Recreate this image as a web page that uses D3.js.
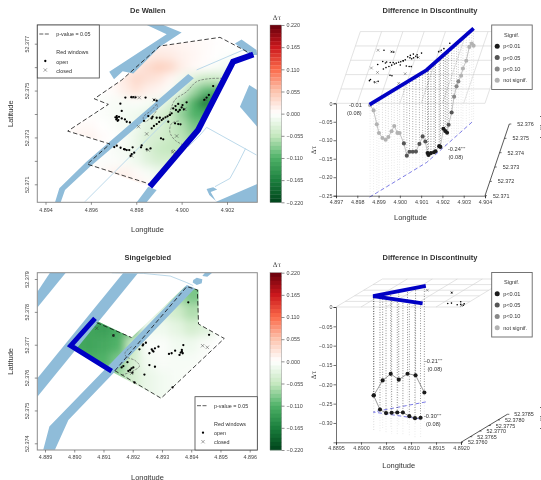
<!DOCTYPE html>
<html>
<head>
<meta charset="utf-8">
<script src="https://cdn.jsdelivr.net/npm/d3@7"></script>
<style>
  html, body { margin: 0; padding: 0; background: #fff; overflow: hidden; }
  svg { display: block; filter: blur(0.35px); }
  text { font-family: "Liberation Sans", Arial, sans-serif; fill: #333; }
  .tick text { font-size: 5.4px; fill: #444; }
  .tick line, .domain { stroke: #444; stroke-width: 0.6; }
</style>
</head>
<body>
<script>
const width = 541, height = 480;

const colorStops = [-0.22, -0.165, -0.11, -0.055, 0, 0.055, 0.11, 0.165, 0.22];
const colorValues = ["#00441b", "#1b7f3d", "#4fb268", "#c5e8bf", "#ffffff", "#fcc3ad", "#fb6a4a", "#cb181d", "#67000d"];
const colorbarTicks = [0.22, 0.165, 0.11, 0.055, 0, -0.055, -0.11, -0.165, -0.22];
const signifLabels = ["p<0.01", "p<0.05", "p<0.10", "not signif."];
const signifColors = ["#1a1a1a", "#555555", "#888888", "#b2b2b2"];

// De Wallen map
const wallenPolygon = [[4.89498,52.37327],[4.89677,52.37441],[4.89615,52.37465],[4.89736,52.37545],[4.89904,52.3769],[4.90169,52.37727],[4.90316,52.37652],[4.90227,52.37623],[4.90073,52.37332],[4.8986,52.3709],[4.89584,52.37186],[4.89684,52.37272]];
const wallenBoundary = [
  [[4.90316,52.37652],[4.90169,52.37727],[4.89904,52.3769],[4.89736,52.37545],[4.89615,52.37465],[4.89677,52.37441],[4.89498,52.37327],[4.89684,52.37272],[4.89584,52.37186],[4.8986,52.37101]]
];
const wallenContours = [
  [[4.89948,52.37403],[4.8997,52.3746],[4.90022,52.37495],[4.90066,52.37538],[4.90125,52.37551],[4.90183,52.37552]],
  [[4.90007,52.37268],[4.8997,52.37289],[4.89948,52.37324],[4.89956,52.3736],[4.89992,52.37371]],
  [[4.8989,52.37443],[4.89868,52.37417],[4.89831,52.37386],[4.89838,52.37367],[4.89868,52.37388],[4.89893,52.37424],[4.8989,52.37443]],
  [[4.89956,52.37239],[4.89963,52.37249],[4.89973,52.37239],[4.89963,52.37229],[4.89956,52.37239]]
];
const wallenCanals = [
  [[4.89442,52.37023],[4.89461,52.37083],[4.89578,52.37194],[4.90029,52.37571],[4.90054,52.37553],[4.89596,52.37175],[4.89486,52.37076],[4.89467,52.37023]],
  [[4.89681,52.3758],[4.89934,52.3774],[4.89846,52.3778],[4.89919,52.3778],[4.9,52.37748],[4.89904,52.37687],[4.89787,52.37573],[4.8974,52.37582],[4.89702,52.37548]],
  [[4.90235,52.37701],[4.90264,52.37718],[4.9033,52.37673],[4.90333,52.37652],[4.90301,52.37652]],
  [[4.90298,52.37524],[4.90333,52.37502],[4.90333,52.37346],[4.90257,52.37431]],
  [[4.89802,52.37023],[4.89853,52.3709],[4.8989,52.37076],[4.89846,52.37023]],
  [[4.90147,52.37023],[4.90333,52.37101],[4.90333,52.37023]],
  [[4.9011,52.3708],[4.90139,52.37087],[4.90157,52.37078],[4.90128,52.37067],[4.90151,52.37029],[4.90122,52.37054]]
];
const wallenStreets = [
  [[4.89574,52.37026],[4.89904,52.37346],[4.89941,52.37381]],
  [[4.90066,52.37588],[4.90271,52.37673],[4.90308,52.37662]],
  [[4.90029,52.3726],[4.90081,52.3731],[4.9011,52.37343],[4.9033,52.37225]],
  [[4.90282,52.37253],[4.90249,52.37189],[4.90213,52.37125],[4.90147,52.3709]]
];
const wallenLine = [[4.90316,52.37654],[4.90227,52.37623],[4.90073,52.37332],[4.8986,52.3709]];
const wallenOpen = [[4.89752,52.3747],[4.89778,52.37472],[4.89787,52.37472],[4.89797,52.37471],[4.89841,52.3747],[4.89879,52.3746],[4.8989,52.37457],[4.8973,52.37444],[4.89736,52.37413],[4.89708,52.37386],[4.89712,52.37377],[4.89715,52.37383],[4.89718,52.37371],[4.89724,52.37388],[4.89714,52.37391],[4.89721,52.37374],[4.89736,52.37381],[4.8975,52.37377],[4.89758,52.37367],[4.89772,52.37364],[4.89703,52.37259],[4.89714,52.37265],[4.89731,52.37256],[4.89746,52.3725],[4.89758,52.37246],[4.89769,52.37246],[4.8975,52.37249],[4.89784,52.37258],[4.89791,52.37235],[4.8978,52.37229],[4.89775,52.37221],[4.89824,52.37266],[4.89821,52.37258],[4.89846,52.37249],[4.89863,52.37253],[4.89909,52.37296],[4.89919,52.37292],[4.89868,52.37339],[4.89878,52.37349],[4.8989,52.37357],[4.89901,52.37366],[4.89912,52.37374],[4.89919,52.3738],[4.89929,52.37386],[4.89938,52.3739],[4.89948,52.37396],[4.89941,52.37367],[4.89904,52.37384],[4.8989,52.37384],[4.89872,52.37388],[4.89853,52.37391],[4.89868,52.37381],[4.89834,52.37371],[4.89963,52.37424],[4.89973,52.37434],[4.89985,52.37443],[4.9,52.37428],[4.9001,52.3742],[4.89985,52.3741],[4.89975,52.37417],[4.89992,52.37417],[4.90004,52.37438],[4.90022,52.3745],[4.89956,52.37403],[4.89948,52.37396],[4.89971,52.3736],[4.89985,52.37357],[4.89995,52.37356],[4.901,52.3746],[4.9011,52.3747],[4.9012,52.37481],[4.90139,52.37519]];
const wallenClosed = [[4.89813,52.3747],[4.89787,52.37471],[4.89879,52.3746],[4.8981,52.37346],[4.89846,52.37315],[4.89978,52.37306],[4.89963,52.37239],[4.8978,52.37221],[4.89853,52.37246],[4.90014,52.3742],[4.90106,52.37462]];
const wallenHeatLons = [4.895,4.8955,4.896,4.8965,4.897,4.8975,4.898,4.8985,4.899,4.8995,4.9,4.9005,4.901,4.9015,4.902,4.9025,4.903,4.9035];
const wallenHeatLats = [52.3775,52.377,52.3765,52.376,52.3755,52.375,52.3745,52.374,52.3735,52.373,52.3725,52.372,52.3715,52.371];
const wallenHeat = [
  [0,0,0,0,0,0,0,0,.004,.004,.004,.004,.002,.001,0,0,0,0],
  [0,0,0,0,0,0,.004,.008,.01,.01,.008,.006,.004,.002,0,0,0,0],
  [0,0,0,0,0,.004,.01,.016,.02,.018,.012,.008,.004,.001,-.003,-.003,0,0],
  [0,0,0,0,.004,.01,.02,.032,.042,.036,.016,.006,.002,-.006,-.012,-.012,0,0],
  [0,0,0,0,.008,.02,.035,.028,.022,.008,-.01,-.03,-.05,-.05,-.04,-.03,0,0],
  [0,0,0,0,.005,.016,.026,.014,.008,-.005,-.03,-.07,-.1,-.11,-.1,-.08,0,0],
  [0,0,-.004,-.004,-.007,-.007,-.004,-.008,-.015,-.035,-.07,-.11,-.17,-.14,-.12,-.1,0,0],
  [0,0,0,-.004,-.007,-.01,-.015,-.02,-.035,-.05,-.08,-.11,-.115,-.11,-.1,0,0,0],
  [0,.005,.005,0,-.004,-.01,-.015,-.03,-.035,-.05,-.065,-.09,-.095,-.09,0,0,0,0],
  [.006,.01,.01,.004,0,-.007,-.02,-.035,-.04,-.05,-.06,-.075,-.08,-.08,0,0,0,0],
  [0,0,0,0,-.007,-.01,-.02,-.035,-.05,-.055,-.055,-.06,-.06,0,0,0,0,0],
  [0,0,-.004,-.004,-.004,-.007,-.015,-.03,-.04,-.04,-.04,-.045,0,0,0,0,0,0],
  [0,0,0,.005,.01,.012,.005,-.007,-.015,-.02,-.02,0,0,0,0,0,0,0],
  [0,0,0,.005,.01,.014,.012,.005,-.004,-.008,-.008,0,0,0,0,0,0,0]
];

// Singelgebied map
const singelPolygon = [[4.89003,52.37696],[4.89071,52.37775],[4.89196,52.37722],[4.89379,52.37877],[4.89425,52.37867],[4.89425,52.37763],[4.89513,52.37719],[4.89297,52.37537],[4.89122,52.37621]];
const singelBoundary = [
  [[4.89077,52.37767],[4.89196,52.37722]],
  [[4.89139,52.37621],[4.89385,52.37877],[4.89421,52.37867],[4.89425,52.37763],[4.89513,52.37719],[4.89297,52.37537],[4.89139,52.37621]]
];
const singelContours = [
  [[4.89196,52.37694],[4.89174,52.37676],[4.89177,52.37664],[4.89208,52.37652],[4.89223,52.37635],[4.89196,52.37618],[4.89162,52.37608]]
];
const singelCanals = [
  [[4.88874,52.37861],[4.88917,52.37919],[4.88971,52.37919],[4.88874,52.37813]],
  [[4.88874,52.37598],[4.89168,52.37919],[4.89219,52.37919],[4.88874,52.37542]],
  [[4.88894,52.3738],[4.88915,52.37451],[4.89385,52.37882],[4.89413,52.37872],[4.8898,52.37471],[4.88934,52.3738]],
  [[4.89407,52.37897],[4.89419,52.37904],[4.89438,52.37899],[4.89436,52.37887],[4.89419,52.37882],[4.89405,52.37889]],
  [[4.89438,52.37909],[4.89447,52.37919],[4.89472,52.37919],[4.89455,52.37907]]
];
const singelStreets = [
  [[4.89128,52.37919],[4.89236,52.37917],[4.89328,52.37909],[4.89385,52.37889],[4.89407,52.3788]]
];
const singelLine = [[4.89071,52.3778],[4.88988,52.37697],[4.89128,52.3762]];
const singelOpen = [[4.8939,52.37829],[4.89461,52.3773],[4.89134,52.37728],[4.89223,52.37686],[4.89236,52.37701],[4.89245,52.37706],[4.89234,52.37698],[4.89257,52.37674],[4.89265,52.37686],[4.89271,52.37679],[4.89276,52.37689],[4.89288,52.37694],[4.89268,52.37682],[4.89324,52.37672],[4.89333,52.37674],[4.89345,52.37682],[4.89373,52.37699],[4.89368,52.37684],[4.89364,52.37676],[4.8936,52.37669],[4.89371,52.37674],[4.89368,52.37679],[4.89257,52.37638],[4.89276,52.37633],[4.8924,52.37609],[4.89206,52.37585],[4.89336,52.3757],[4.89168,52.37635],[4.89182,52.37647],[4.89162,52.37631],[4.89196,52.37628],[4.89191,52.37623],[4.89202,52.37631],[4.89185,52.3762],[4.89199,52.37615]];
const singelClosed = [[4.89077,52.3775],[4.89134,52.37728],[4.89196,52.37613],[4.89439,52.37697],[4.89455,52.37692]];
const singelHeatLons = [4.8895,4.89,4.8905,4.891,4.8915,4.892,4.8925,4.893,4.8935,4.894,4.8945,4.895,4.8955];
const singelHeatLats = [52.379,52.3785,52.378,52.3775,52.377,52.3765,52.376,52.3755,52.375];
const singelHeat = [
  [0,0,0,0,0,0,0,0,-.07,-.09,-.09,0,0],
  [0,0,0,0,0,0,0,-.04,-.07,-.09,-.09,0,0],
  [-.1,-.1,-.11,-.115,-.11,-.09,-.03,-.03,-.045,-.065,-.06,0,0],
  [-.1,-.11,-.125,-.13,-.115,-.1,-.015,-.015,-.025,-.04,-.03,-.005,-.005],
  [-.11,-.12,-.125,-.12,-.11,-.05,-.005,-.005,-.012,-.015,-.006,0,0],
  [-.11,-.11,-.115,-.11,-.09,-.04,-.012,-.006,-.008,-.008,-.004,0,0],
  [0,0,-.11,-.09,-.07,-.04,-.02,-.012,-.008,-.005,0,0,0],
  [0,0,0,0,-.04,-.03,-.02,-.012,-.008,-.004,0,0,0],
  [0,0,0,0,-.02,-.015,-.012,-.008,-.004,0,0,0,0]
];

// discontinuity along the boundary: [longitude, difference, significance class]
const wallenDisc = [[4.89862,-.002,3],[4.89875,-.022,3],[4.89887,-.065,3],[4.89895,-.092,3],[4.89908,-.111,3],[4.8992,-.121,3],[4.8993,-.118,3],[4.89942,-.108,3],[4.89952,-.098,3],[4.89964,-.122,3],[4.89972,-.126,3],[4.89988,-.161,1],[4.89999,-.199,1],[4.90009,-.193,1],[4.90021,-.198,1],[4.90033,-.203,1],[4.90046,-.188,1],[4.90058,-.173,1],[4.90068,-.191,1],[4.90076,-.227,0],[4.90079,-.234,0],[4.90087,-.235,0],[4.90097,-.24,0],[4.90102,-.241,0],[4.90114,-.236,0],[4.90118,-.241,0],[4.90128,-.199,0],[4.90134,-.21,0],[4.9014,-.219,0],[4.90145,-.201,1],[4.90155,-.175,1],[4.90163,-.138,2],[4.90171,-.116,2],[4.90177,-.107,2],[4.90186,-.098,3],[4.90192,-.083,3],[4.90203,-.07,3],[4.90213,-.04,3],[4.90221,-.037,3],[4.90227,-.047,3]];
const singelDiscLine = [[4.8906,52.37788],[4.88988,52.37698],[4.89111,52.37633]];
const singelDiscUpper = [[4.88989,-.257,0],[4.89001,-.223,0],[4.89012,-.21,0],[4.89023,-.229,0],[4.89035,-.218,0],[4.89046,-.226,0],[4.89058,-.275,0]];
const singelDiscLower = [[4.88989,-.257,0],[4.89005,-.291,0],[4.8902,-.298,0],[4.89034,-.295,0],[4.89048,-.292,0],[4.89062,-.29,0],[4.89078,-.297,0],[4.89092,-.3,0],[4.89106,-.297,0]];

const svg = d3.select('body').append('svg')
    .attr('width', width)
    .attr('height', height);
const defs = svg.append('defs');
defs.append('filter').attr('id', 'heat-blur')
    .attr('x', '-10%').attr('y', '-10%').attr('width', '120%').attr('height', '120%')
    .append('feGaussianBlur').attr('stdDeviation', 4.5);

const heatColor = d3.scaleLinear().domain(colorStops).range(colorValues);

function label(parent, x, y, str, size, opts) {
    const o = opts || {};
    return parent.append('text')
        .attr('transform', o.rotate ? 'translate(' + x + ',' + y + ') rotate(' + o.rotate + ')' : null)
        .attr('x', o.rotate ? 0 : x)
        .attr('y', o.rotate ? 0 : y)
        .attr('text-anchor', o.anchor || 'start')
        .attr('font-weight', o.bold ? 'bold' : null)
        .style('font-size', size + 'px')
        .text(str);
}

function renderMap(cfg) {
    const x = d3.scaleLinear().domain(cfg.lonDomain).range(cfg.lonRange);
    const y = d3.scaleLinear().domain(cfg.latDomain).range(cfg.latRange);
    const line = d3.line().x(d => x(d[0])).y(d => y(d[1]));
    const poly = pts => line(pts) + 'Z';
    const f = cfg.frame;

    const clipFrame = cfg.id + '-frame', clipPoly = cfg.id + '-poly';
    defs.append('clipPath').attr('id', clipFrame).append('rect')
        .attr('x', f.x0).attr('y', f.y0).attr('width', f.x1 - f.x0).attr('height', f.y1 - f.y0);
    defs.append('clipPath').attr('id', clipPoly).append('path').attr('d', poly(cfg.polygon));

    const plot = svg.append('g').attr('clip-path', 'url(#' + clipFrame + ')');

    const dLon = Math.abs(cfg.heatLons[1] - cfg.heatLons[0]) / 2;
    const dLat = Math.abs(cfg.heatLats[0] - cfg.heatLats[1]) / 2;
    plot.append('g').attr('clip-path', 'url(#' + clipPoly + ')')
      .append('g').attr('filter', 'url(#heat-blur)')
      .selectAll('g').data(cfg.heat).join('g')
      .each(function(row, r) {
          d3.select(this).selectAll('rect').data(row).join('rect')
            .attr('x', (d, c) => x(cfg.heatLons[c] - dLon))
            .attr('y', y(cfg.heatLats[r] + dLat))
            .attr('width', x(dLon * 2) - x(0) + 0.5)
            .attr('height', y(0) - y(dLat * 2) + 0.5)
            .attr('fill', d => heatColor(d));
      });

    plot.selectAll('path.canal').data(cfg.canals).join('path').attr('class', 'canal')
        .attr('d', poly).attr('fill', '#8fbcd9');
    plot.selectAll('path.street').data(cfg.streets).join('path').attr('class', 'street')
        .attr('d', line).attr('fill', 'none').attr('stroke', '#b4d5e8').attr('stroke-width', 0.9);
    plot.selectAll('path.contour').data(cfg.contours).join('path').attr('class', 'contour')
        .attr('d', d3.line().x(d => x(d[0])).y(d => y(d[1])).curve(d3.curveCatmullRom))
        .attr('fill', 'none').attr('stroke', '#555').attr('stroke-width', 0.6).attr('stroke-dasharray', '2.5,1.2');
    plot.selectAll('path.boundary').data(cfg.boundary).join('path').attr('class', 'boundary')
        .attr('d', line).attr('fill', 'none').attr('stroke', '#111').attr('stroke-width', 0.8).attr('stroke-dasharray', '4.5,2.5');

    plot.selectAll('circle.open').data(cfg.open).join('circle').attr('class', 'open')
        .attr('cx', d => x(d[0])).attr('cy', d => y(d[1])).attr('r', 1.15).attr('fill', '#000');
    plot.selectAll('path.closed').data(cfg.closed).join('path').attr('class', 'closed')
        .attr('transform', d => 'translate(' + x(d[0]) + ',' + y(d[1]) + ')')
        .attr('d', d3.symbol(d3.symbolTimes, 9)).attr('fill', 'none').attr('stroke', '#333').attr('stroke-width', 0.45);
    plot.append('path').attr('d', line(cfg.treatment))
        .attr('fill', 'none').attr('stroke', '#0000c4').attr('stroke-width', cfg.treatmentWidth)
        .attr('stroke-linejoin', 'miter');

    svg.append('rect').attr('x', f.x0).attr('y', f.y0).attr('width', f.x1 - f.x0).attr('height', f.y1 - f.y0)
        .attr('fill', 'none').attr('stroke', '#8c8c8c').attr('stroke-width', 1);

    svg.append('g').attr('transform', 'translate(0,' + f.y1 + ')')
        .call(d3.axisBottom(x).tickValues(cfg.lonTicks).tickFormat(d3.format('.3f')).tickSize(2.5).tickPadding(3))
        .call(g => g.select('.domain').remove());
    const yAxis = svg.append('g').attr('transform', 'translate(' + f.x0 + ',0)')
        .call(d3.axisLeft(y).tickValues(cfg.latTicks).tickFormat(d => cfg.latLabels.includes(d) ? d3.format('.3f')(d) : '').tickSize(2.5).tickPadding(2));
    yAxis.select('.domain').remove();
    yAxis.selectAll('.tick text').attr('transform', 'rotate(-90)').attr('x', 0).attr('y', -8).attr('dy', 0).attr('text-anchor', 'middle');

    label(svg, (f.x0 + f.x1) / 2 + 0.5, cfg.titleY, cfg.title, 7.5, {anchor: 'middle', bold: true});
    label(svg, 147.5, f.y1 + 29.5, 'Longitude', 7.5, {anchor: 'middle'});
    label(svg, 13, (f.y0 + f.y1) / 2, 'Latitude', 7.5, {anchor: 'middle', rotate: -90});

    // colour bar
    const bar = d3.scaleLinear().domain([0.22, -0.22]).range([f.y0, f.y1]);
    const steps = d3.range(44).map(i => 0.22 - (i + 0.5) * 0.01);
    svg.append('g').selectAll('rect').data(steps).join('rect')
        .attr('x', 270).attr('width', 11.5)
        .attr('y', d => bar(d + 0.005)).attr('height', bar(0) - bar(0.01) + 0.3)
        .attr('fill', d => heatColor(d));
    svg.append('rect').attr('x', 270).attr('y', f.y0).attr('width', 11.5).attr('height', f.y1 - f.y0)
        .attr('fill', 'none').attr('stroke', '#777').attr('stroke-width', 0.4);
    svg.append('g').attr('transform', 'translate(281.5,0)')
        .call(d3.axisRight(bar).tickValues(colorbarTicks).tickFormat(d3.format('.3f')).tickSize(3).tickPadding(2))
        .call(g => g.select('.domain').remove());
    label(svg, 277, f.y0 - 5.5, 'Δτ', 6.5, {anchor: 'middle'}).style('font-family', '"DejaVu Serif", serif');

    // legend
    const l = cfg.legend;
    svg.append('rect').attr('x', l.x0).attr('y', l.y0).attr('width', l.x1 - l.x0).attr('height', l.y1 - l.y0)
        .attr('fill', '#fff').attr('stroke', '#444').attr('stroke-width', 0.8);
    const lt = l.x0 + 19, lm = l.x0 + 8;
    svg.append('line').attr('x1', l.x0 + 2).attr('x2', l.x0 + 13).attr('y1', l.y0 + 9).attr('y2', l.y0 + 9)
        .attr('stroke', '#333').attr('stroke-width', 0.8).attr('stroke-dasharray', '4,1.5');
    label(svg, lt, l.y0 + 11, 'p-value = 0.05', 5.4);
    label(svg, lt, l.y0 + 29, 'Red windows', 5.4);
    svg.append('circle').attr('cx', lm).attr('cy', l.y0 + 36).attr('r', 1.15).attr('fill', '#000');
    label(svg, lt, l.y0 + 38.5, 'open', 5.4);
    svg.append('path').attr('transform', 'translate(' + lm + ',' + (l.y0 + 45) + ')')
        .attr('d', d3.symbol(d3.symbolTimes, 9)).attr('fill', 'none').attr('stroke', '#333').attr('stroke-width', 0.45);
    label(svg, lt, l.y0 + 47.5, 'closed', 5.4);
}

function renderPersp(cfg) {
    const x = d3.scaleLinear().domain(cfg.lonDomain).range(cfg.lonRange);
    const y = d3.scaleLinear().domain(cfg.dtDomain).range(cfg.dtRange);
    const latX = d3.scaleLinear().domain(cfg.latDomain).range([0, cfg.latShift[0]]);
    const latY = d3.scaleLinear().domain(cfg.latDomain).range([0, cfg.latShift[1]]);
    const px = (lon, lat) => x(lon) + latX(lat);
    const py = (lat, dt) => y(dt) + latY(lat);
    const [latMin, latMax] = cfg.latDomain;
    const gridLine = d3.line().x(d => px(d[0], d[1])).y(d => py(d[1], 0));

    // grid on the zero plane
    const g = svg.append('g').attr('fill', 'none').attr('stroke', '#d0d0d0').attr('stroke-width', 0.6);
    g.selectAll('path.lat').data(cfg.latTicks).join('path').attr('class', 'lat')
        .attr('d', d => gridLine([[cfg.lonDomain[0], d], [cfg.lonDomain[1], d]]));
    g.selectAll('path.lon').data(cfg.lonTicks).join('path').attr('class', 'lon')
        .attr('d', d => gridLine([[d, latMin], [d, latMax]]));

    // floor shadow of the boundary
    const floorDt = cfg.floorDt;
    svg.append('path').attr('d', d3.line().x(d => px(d[0], d[1])).y(d => py(d[1], floorDt))(cfg.line))
        .attr('fill', 'none').attr('stroke', '#5a5adf').attr('stroke-width', 0.8).attr('stroke-dasharray', '4,2.5');

    cfg.series.forEach(s => {
        const lats = s.lineRef;
        const latOf = d3.scaleLinear().domain(lats.map(d => d[0])).range(lats.map(d => d[1]));
        const pts = s.values.map(d => ({lon: d[0], lat: latOf(d[0]), dt: d[1], sig: d[2]}));
        // dotted drops, faint below the estimate
        svg.append('g').selectAll('line').data(pts).join('line')
            .attr('x1', d => px(d.lon, d.lat)).attr('x2', d => px(d.lon, d.lat))
            .attr('y1', d => py(d.lat, d.dt)).attr('y2', d => py(d.lat, cfg.dotEnd))
            .attr('stroke', '#ccc').attr('stroke-width', 0.5).attr('stroke-dasharray', '0.8,1.8');
        svg.append('g').attr('opacity', 0.8).selectAll('line').data(pts).join('line')
            .attr('x1', d => px(d.lon, d.lat)).attr('x2', d => px(d.lon, d.lat))
            .attr('y1', d => py(d.lat, 0)).attr('y2', d => py(d.lat, d.dt))
            .attr('stroke', d => signifColors[d.sig]).attr('stroke-width', 0.75).attr('stroke-dasharray', '0.8,1.7');
        svg.append('path').attr('d', d3.line().x(d => px(d.lon, d.lat)).y(d => py(d.lat, d.dt))(pts))
            .attr('fill', 'none').attr('stroke', cfg.curveColor).attr('stroke-width', 0.6);
        svg.append('g').selectAll('circle').data(pts).join('circle')
            .attr('cx', d => px(d.lon, d.lat)).attr('cy', d => py(d.lat, d.dt)).attr('r', 2.05)
            .attr('fill', d => signifColors[d.sig]);
    });

    svg.append('path').attr('d', d3.line().x(d => px(d[0], d[1])).y(d => py(d[1], 0))(cfg.line))
        .attr('fill', 'none').attr('stroke', '#0000c4').attr('stroke-width', 3.8).attr('stroke-linejoin', 'miter');

    svg.append('g').selectAll('circle').data(cfg.open).join('circle')
        .attr('cx', d => px(d[0], d[1])).attr('cy', d => py(d[1], 0)).attr('r', 0.8).attr('fill', '#000');
    svg.append('g').selectAll('path').data(cfg.closed).join('path')
        .attr('transform', d => 'translate(' + px(d[0], d[1]) + ',' + py(d[1], 0) + ')')
        .attr('d', d3.symbol(d3.symbolTimes, 6)).attr('fill', 'none').attr('stroke', '#333').attr('stroke-width', 0.4);

    // axes
    const y0 = cfg.dtRange[1], x0 = cfg.lonRange[0], x1 = cfg.lonRange[1];
    const xAxis = svg.append('g').attr('transform', 'translate(0,' + y0 + ')')
        .call(d3.axisBottom(x).tickValues(cfg.lonTicks).tickFormat(d3.format('.' + cfg.lonDigits + 'f')).tickSize(2.5).tickPadding(1.5));
    xAxis.selectAll('.domain, .tick line').style('stroke', '#111');
    const yAxis = svg.append('g').attr('transform', 'translate(' + x0 + ',0)')
        .call(d3.axisLeft(y).tickValues(cfg.dtTicks).tickFormat(d => d === 0 ? '0' : d3.format('.2f')(d)).tickSize(2.5).tickPadding(1));
    yAxis.selectAll('.domain, .tick line').style('stroke', '#111');

    const latAxis = svg.append('g').attr('fill', 'none');
    latAxis.append('line').attr('x1', x1).attr('y1', y0)
        .attr('x2', x1 + latX(latMax)).attr('y2', y0 + latY(latMax))
        .attr('stroke', '#111').attr('stroke-width', 0.7);
    cfg.latTicks.forEach(d => {
        latAxis.append('line').attr('x1', x1 + latX(d)).attr('y1', y0 + latY(d))
            .attr('x2', x1 + latX(d) + 2).attr('y2', y0 + latY(d)).attr('stroke', '#111').attr('stroke-width', 0.6);
        label(svg, x1 + latX(d) + cfg.latLabelDx, y0 + latY(d) + 2, d3.format('.' + cfg.latDigits + 'f')(d), 5.4);
    });

    label(svg, 430, cfg.titleY, 'Difference in Discontinuity', 7.5, {anchor: 'middle', bold: true});
    label(svg, cfg.xTitle[0], cfg.xTitle[1], 'Longitude', 7.5, {anchor: 'middle'});
    label(svg, 316, cfg.dtTitleY, 'Δτ', 6.5, {anchor: 'middle', rotate: -90}).style('font-family', '"DejaVu Serif", serif');
    label(svg, 545, cfg.latTitleY, 'Latitude', 7.5, {anchor: 'middle', rotate: -90});

    cfg.notes.forEach(n => {
        const t = label(svg, n.x, n.y, n.text, 5.6);
        if (n.stars) t.append('tspan').attr('dy', -1.5).style('font-size', '4px').text(n.stars);
    });

    const l = cfg.legend;
    svg.append('rect').attr('x', l.x0).attr('y', l.y0).attr('width', 40.5).attr('height', 64.5)
        .attr('fill', '#fff').attr('stroke', '#666').attr('stroke-width', 0.9);
    label(svg, l.x0 + 20, l.y0 + 11.5, 'Signif.', 5.6, {anchor: 'middle'});
    signifLabels.forEach((s, i) => {
        svg.append('circle').attr('cx', l.x0 + 5.5).attr('cy', l.y0 + 21.3 + i * 11.3).attr('r', 2.5).attr('fill', signifColors[i]);
        label(svg, l.x0 + 11.5, l.y0 + 23.3 + i * 11.3, s, 5.6);
    });
}

renderMap({
    id: 'wallen', title: 'De Wallen', titleY: 12.5,
    frame: {x0: 37.3, x1: 257.3, y0: 25, y1: 202.3},
    lonDomain: [4.894, 4.902], lonRange: [45.5, 227],
    latDomain: [52.377, 52.371], latRange: [43.7, 184.3],
    lonTicks: [4.894, 4.896, 4.898, 4.9, 4.902],
    latTicks: [52.377, 52.376, 52.375, 52.374, 52.373, 52.372, 52.371],
    latLabels: [52.377, 52.375, 52.373, 52.371],
    polygon: wallenPolygon, boundary: wallenBoundary, contours: wallenContours,
    canals: wallenCanals, streets: wallenStreets, treatment: wallenLine, treatmentWidth: 6,
    open: wallenOpen, closed: wallenClosed,
    heat: wallenHeat, heatLons: wallenHeatLons, heatLats: wallenHeatLats,
    legend: {x0: 37.3, x1: 99.3, y0: 25, y1: 78}
});

renderMap({
    id: 'singel', title: 'Singelgebied', titleY: 260,
    frame: {x0: 37.3, x1: 257.3, y0: 272.7, y1: 450},
    lonDomain: [4.889, 4.896], lonRange: [45, 249.7],
    latDomain: [52.379, 52.374], latRange: [279, 443.3],
    lonTicks: [4.889, 4.89, 4.891, 4.892, 4.893, 4.894, 4.895, 4.896],
    latTicks: [52.379, 52.378, 52.377, 52.376, 52.375, 52.374],
    latLabels: [52.379, 52.378, 52.377, 52.376, 52.375, 52.374],
    polygon: singelPolygon, boundary: singelBoundary, contours: singelContours,
    canals: singelCanals, streets: singelStreets, treatment: singelLine, treatmentWidth: 5,
    open: singelOpen, closed: singelClosed,
    heat: singelHeat, heatLons: singelHeatLons, heatLats: singelHeatLats,
    legend: {x0: 195, x1: 257.3, y0: 396.7, y1: 450}
});

const wallenDiscLine = wallenLine.slice(1).reverse();

renderPersp({
    titleY: 12.5, curveColor: '#999',
    lonDomain: [4.897, 4.904], lonRange: [336, 485],
    dtDomain: [0, -0.25], dtRange: [103.3, 195.7],
    latDomain: [52.371, 52.376], latShift: [24.3, -71.7],
    lonTicks: d3.range(8).map(i => 4.897 + i * 0.001),
    latTicks: d3.range(6).map(i => 52.371 + i * 0.001),
    dtTicks: [0, -0.05, -0.1, -0.15, -0.2, -0.25],
    lonDigits: 3, latDigits: 3, latLabelDx: 8,
    line: wallenDiscLine, floorDt: -0.25, dotEnd: -0.25,
    series: [{values: wallenDisc, lineRef: wallenDiscLine}],
    open: wallenOpen.filter(d => d[0] >= 4.898),
    closed: wallenClosed.filter(d => d[0] >= 4.898),
    xTitle: [410.5, 220], dtTitleY: 150, latTitleY: 125,
    notes: [
        {x: 349, y: 107, text: '-0.01'}, {x: 347, y: 115, text: '(0.08)'},
        {x: 448, y: 151, text: '-0.24', stars: '***'}, {x: 448.5, y: 159, text: '(0.08)'}
    ],
    legend: {x0: 491.7, y0: 25}
});

renderPersp({
    titleY: 260, curveColor: '#555',
    lonDomain: [4.8895, 4.892], lonRange: [336, 461],
    dtDomain: [0, -0.35], dtRange: [307, 442.3],
    latDomain: [52.376, 52.3785], latShift: [46.3, -28],
    lonTicks: d3.range(6).map(i => 4.8895 + i * 0.0005),
    latTicks: d3.range(6).map(i => 52.376 + i * 0.0005),
    dtTicks: [0, -0.05, -0.1, -0.15, -0.2, -0.25, -0.3],
    lonDigits: 4, latDigits: 4, latLabelDx: 7,
    line: singelDiscLine, floorDt: -0.3, dotEnd: -0.35,
    series: [
        {values: singelDiscUpper, lineRef: singelDiscLine.slice(0, 2).reverse()},
        {values: singelDiscLower, lineRef: singelDiscLine.slice(1)}
    ],
    open: singelOpen.filter(d => d[0] <= 4.892),
    closed: singelClosed.filter(d => d[0] <= 4.892),
    xTitle: [398.7, 468], dtTitleY: 375, latTitleY: 416,
    notes: [
        {x: 425, y: 363, text: '-0.21', stars: '***'}, {x: 427.5, y: 371, text: '(0.08)'},
        {x: 424, y: 418, text: '-0.30', stars: '***'}, {x: 426, y: 426, text: '(0.08)'}
    ],
    legend: {x0: 491.7, y0: 272.5}
});
</script>
</body>
</html>
